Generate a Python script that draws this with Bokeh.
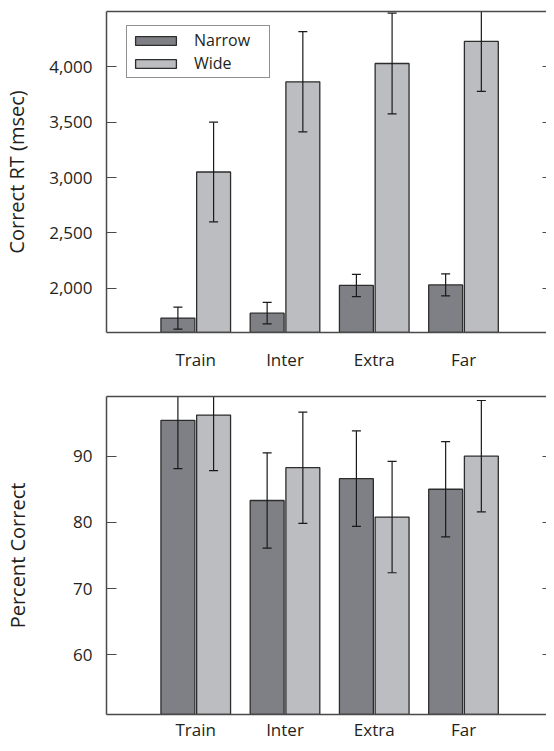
from bokeh.plotting import figure
from bokeh.layouts import column
from bokeh.models import (FixedTicker, NumeralTickFormatter, BasicTickFormatter, LinearAxis,
                          Range1d, Legend, LegendItem, ColumnDataSource)
from bokeh.embed import file_html
from bokeh.resources import INLINE

# ---------------- data ----------------
categories = ["Train", "Inter", "Extra", "Far"]

rt_narrow = [1730, 1775, 2025, 2030]
rt_narrow_err = [100, 97, 100, 100]
rt_wide = [3050, 3865, 4030, 4230]
rt_wide_err = [450, 453, 455, 452]

pc_narrow = [95.4, 83.3, 86.6, 85.0]
pc_narrow_err = [7.3, 7.2, 7.2, 7.2]
pc_wide = [96.2, 88.25, 80.8, 90.0]
pc_wide_err = [8.4, 8.4, 8.4, 8.4]

rt_ticks = [2000, 2500, 3000, 3500, 4000]
pc_ticks = [60, 70, 80, 90]

series_names = ["Narrow", "Wide"]

# ---------------- style ----------------
FONT = "Open Sans"
TEXT = "#231f20"
NARROW = "#7f8085"
WIDE = "#bcbdc1"
EDGE = "#2d2d2d"
AXIS = "#4a4a4a"
ERR = "#1a1a1a"


def make_panel(narrow, narrow_err, wide, wide_err, y_start, y_end, yticks, ylabel,
               height, border_top, border_bottom, xlabel_standoff, axis_label_standoff,
               formatter, with_legend):
    p = figure(width=546, height=height,
               x_range=Range1d(0, 4.93), y_range=Range1d(y_start, y_end),
               output_backend="svg", toolbar_location=None,
               x_axis_type=None, y_axis_type=None,
               min_border_left=99, min_border_right=0,
               min_border_top=border_top, min_border_bottom=border_bottom)
    p.outline_line_color = None
    p.background_fill_color = "white"
    p.border_fill_color = "white"

    xs = [i + 1 for i in range(len(categories))]
    renderers = []
    for vals, errs, off, color in ((narrow, narrow_err, -0.2, NARROW),
                                   (wide, wide_err, 0.2, WIDE)):
        bx = [x + off for x in xs]
        src = ColumnDataSource(dict(
            x=bx, top=vals,
            upper=[v + e for v, e in zip(vals, errs)],
            lower=[v - e for v, e in zip(vals, errs)]))
        r = p.vbar(x="x", top="top", bottom=0, width=0.38, source=src,
                   fill_color=color, line_color=EDGE, line_width=1.3)
        renderers.append(r)
        p.segment(x0="x", y0="lower", x1="x", y1="upper", source=src,
                  line_color=ERR, line_width=1.2)
        p.scatter(x="x", y="upper", source=src, marker="dash", size=9,
                  line_color=ERR, line_width=1.2)
        p.scatter(x="x", y="lower", source=src, marker="dash", size=9,
                  line_color=ERR, line_width=1.2)

    # left axis
    left = LinearAxis(ticker=FixedTicker(ticks=yticks), formatter=formatter,
                      axis_label=ylabel)
    left.major_tick_in = 10
    left.major_tick_out = 0
    left.minor_tick_line_color = None
    left.axis_line_color = AXIS
    left.axis_line_width = 1.5
    left.major_tick_line_color = AXIS
    left.major_tick_line_width = 1.2
    left.major_label_text_font = FONT
    left.major_label_text_font_size = "17px"
    left.major_label_text_color = TEXT
    left.major_label_standoff = 14
    left.axis_label_text_font = FONT
    left.axis_label_text_font_size = "20px"
    left.axis_label_text_font_style = "normal"
    left.axis_label_text_color = TEXT
    left.axis_label_standoff = axis_label_standoff
    p.add_layout(left, "left")

    # bottom axis with category names
    bottom = LinearAxis(ticker=FixedTicker(ticks=xs),
                        major_label_overrides={x: c for x, c in zip(xs, categories)})
    bottom.major_tick_in = 0
    bottom.major_tick_out = 0
    bottom.major_tick_line_color = None
    bottom.minor_tick_line_color = None
    bottom.axis_line_color = AXIS
    bottom.axis_line_width = 1.5
    bottom.major_label_text_font = FONT
    bottom.major_label_text_font_size = "17px"
    bottom.major_label_text_color = TEXT
    bottom.major_label_standoff = xlabel_standoff
    p.add_layout(bottom, "below")

    # top frame line
    top = LinearAxis(ticker=FixedTicker(ticks=[]))
    top.major_tick_in = 0
    top.major_tick_out = 0
    top.minor_tick_line_color = None
    top.major_label_text_font_size = "0px"
    top.major_label_standoff = 0
    top.axis_line_color = AXIS
    top.axis_line_width = 1.5
    p.add_layout(top, "above")

    # right side inward ticks only
    right = LinearAxis(ticker=FixedTicker(ticks=yticks))
    right.major_tick_in = 4
    right.major_tick_out = 0
    right.minor_tick_line_color = None
    right.major_tick_line_color = AXIS
    right.major_tick_line_width = 1.2
    right.axis_line_color = None
    right.major_label_text_font_size = "0px"
    right.major_label_text_alpha = 0
    right.major_label_standoff = 0
    p.add_layout(right, "right")

    if with_legend:
        legend = Legend(items=[LegendItem(label=n, renderers=[r])
                               for n, r in zip(series_names, renderers)],
                        location=(20, 254))
        legend.glyph_width = 51
        legend.glyph_height = 11
        legend.label_standoff = 13
        legend.label_width = 72
        legend.padding = 3
        legend.spacing = 1
        legend.margin = 0
        legend.label_text_font = FONT
        legend.label_text_font_size = "16px"
        legend.label_text_color = TEXT
        legend.border_line_color = "#222222"
        legend.border_line_width = 1
        legend.background_fill_alpha = 1
        p.add_layout(legend, "center")
    return p


p1 = make_panel(rt_narrow, rt_narrow_err, rt_wide, rt_wide_err, 1600, 4500, rt_ticks,
                "Correct RT (msec)", height=378, border_top=11, border_bottom=46,
                xlabel_standoff=15, axis_label_standoff=16,
                formatter=NumeralTickFormatter(format="0,0"), with_legend=True)
p2 = make_panel(pc_narrow, pc_narrow_err, pc_wide, pc_wide_err, 51, 99, pc_ticks,
                "Percent Correct", height=365, border_top=18, border_bottom=26,
                xlabel_standoff=3, axis_label_standoff=39,
                formatter=BasicTickFormatter(), with_legend=False)

layout = column(p1, p2)
open("out.html", "w").write(file_html(layout, INLINE))
